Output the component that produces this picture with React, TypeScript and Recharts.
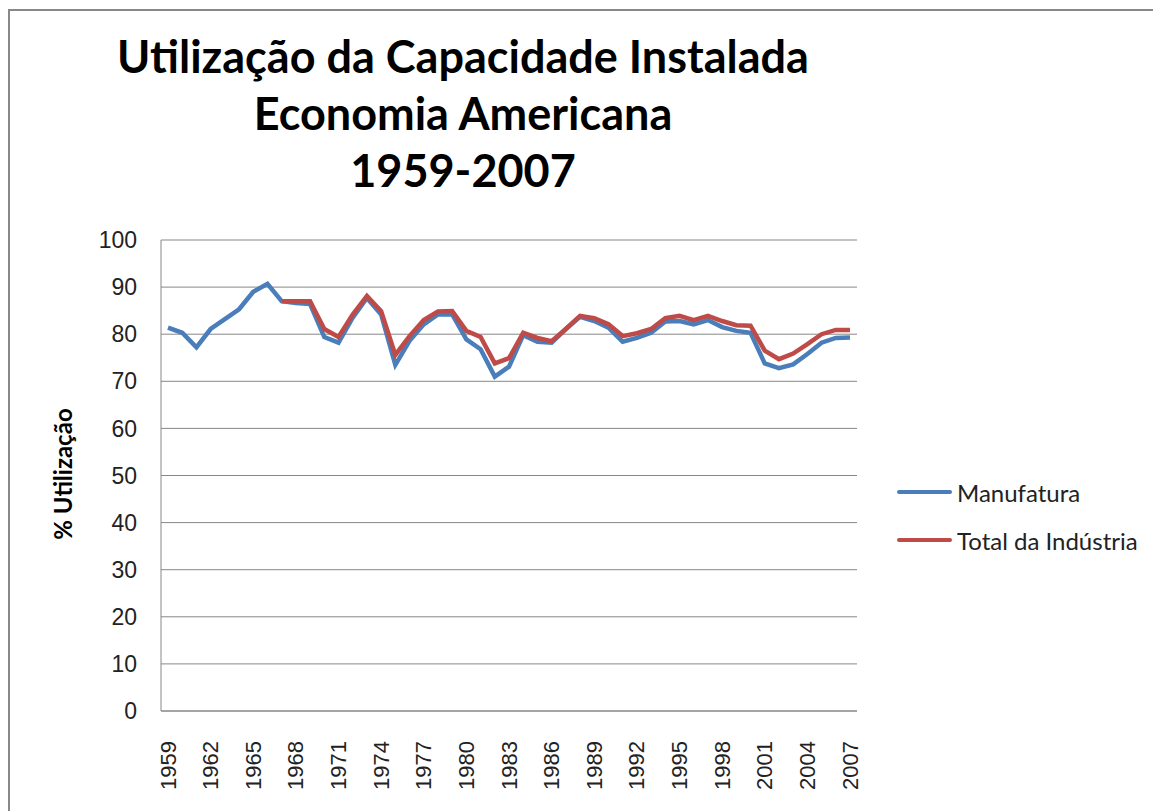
import { LineChart, Line, XAxis, YAxis, CartesianGrid } from 'recharts';

const years = [
  1959, 1960, 1961, 1962, 1963, 1964, 1965, 1966, 1967, 1968,
  1969, 1970, 1971, 1972, 1973, 1974, 1975, 1976, 1977, 1978,
  1979, 1980, 1981, 1982, 1983, 1984, 1985, 1986, 1987, 1988,
  1989, 1990, 1991, 1992, 1993, 1994, 1995, 1996, 1997, 1998,
  1999, 2000, 2001, 2002, 2003, 2004, 2005, 2006, 2007,
];

const manufatura = [
  81.4, 80.3, 77.2, 81.1, 83.2, 85.3, 89.0, 90.7, 87.0, 86.6,
  86.4, 79.4, 78.2, 83.5, 87.7, 84.2, 73.5, 78.6, 82.1, 84.2,
  84.2, 78.9, 76.8, 71.0, 73.1, 79.8, 78.4, 78.2, 81.1, 83.7,
  82.8, 81.4, 78.4, 79.2, 80.3, 82.7, 82.8, 82.1, 83.0, 81.5,
  80.7, 80.3, 73.8, 72.8, 73.6, 75.8, 78.2, 79.2, 79.3,
];

const totalIndustria = [
  null, null, null, null, null, null, null, null, 87.0, 87.0,
  87.0, 81.1, 79.4, 84.2, 88.1, 84.9, 75.6, 79.6, 83.0, 84.8,
  84.9, 80.7, 79.4, 73.8, 74.9, 80.3, 79.2, 78.5, 81.1, 83.9,
  83.4, 82.1, 79.6, 80.2, 81.1, 83.4, 83.9, 83.0, 83.9, 82.8,
  81.9, 81.8, 76.5, 74.7, 75.9, 77.9, 80.0, 80.9, 80.9,
];

const yTicks = [0, 10, 20, 30, 40, 50, 60, 70, 80, 90, 100];

const seriesNames = ['Manufatura', 'Total da Indústria'];

const data = years.map((y, i) => ({
  year: String(y),
  manufatura: manufatura[i],
  total: totalIndustria[i],
}));

const BLUE = '#4A7EBB';
const RED = '#BE4B48';
const GRID = '#878787';
const TICK_FONT = '"Liberation Sans", Arial, sans-serif';
const TITLE_FONT = 'Lato, "Noto Sans", sans-serif';

const YearTick = (props: any) => {
  const { x, y, payload } = props;
  const ty = y + 22;
  return (
    <text
      x={x}
      y={ty}
      transform={`rotate(-90, ${x}, ${ty})`}
      textAnchor="end"
      dominantBaseline="central"
      fontFamily={TICK_FONT}
      fontSize={22}
      fill="#222"
    >
      {payload.value}
    </text>
  );
};

export default function App() {
  return (
    <div
      style={{
        position: 'relative',
        width: 1153,
        height: 803,
        marginTop: 1,
        borderTop: '2px solid #888',
        borderLeft: '2px solid #888',
        boxSizing: 'border-box',
        background: '#fff',
      }}
    >
      <div
        style={{
          position: 'absolute',
          left: 0,
          top: 17,
          width: 906,
          textAlign: 'center',
          fontFamily: TITLE_FONT,
          fontWeight: 700,
          fontSize: 45,
          lineHeight: '57px',
          color: '#000',
        }}
      >
        Utilização da Capacidade Instalada
        <br />
        Economia Americana
        <br />
        1959-2007
      </div>
      <div style={{ position: 'absolute', left: -2, top: -3 }}>
        <LineChart
          width={1153}
          height={803}
          data={data}
          margin={{ top: 232, right: 304, left: 0, bottom: 0 }}
        >
          <CartesianGrid vertical={false} stroke={GRID} strokeWidth={1} />
          <XAxis
            dataKey="year"
            interval={2}
            height={100}
            padding={{ left: 7, right: 7 }}
            axisLine={{ stroke: GRID }}
            tickLine={false}
            tick={<YearTick />}
          />
          <YAxis
            domain={[0, 100]}
            ticks={yTicks}
            width={153}
            axisLine={{ stroke: GRID }}
            tickLine={false}
            tickSize={0}
            tickMargin={24}
            tick={{ fontFamily: TICK_FONT, fontSize: 23, fill: '#222' }}
            label={() => (
              <text
                x={54}
                y={466}
                transform="rotate(-90, 54, 466)"
                textAnchor="middle"
                dominantBaseline="central"
                fontFamily={TITLE_FONT}
                fontWeight={700}
                fontSize={24}
                fill="#000"
              >
                % Utilização
              </text>
            )}
          />
          <Line
            type="linear"
            dataKey="manufatura"
            name={seriesNames[0]}
            stroke={BLUE}
            strokeWidth={4.5}
            dot={false}
            isAnimationActive={false}
          />
          <Line
            type="linear"
            dataKey="total"
            name={seriesNames[1]}
            stroke={RED}
            strokeWidth={4.5}
            dot={false}
            connectNulls={false}
            isAnimationActive={false}
          />
        </LineChart>
      </div>
      <div style={{ position: 'absolute', left: 875, top: 439, width: 268, height: 100 }}>
        {[BLUE, RED].map((c, i) => (
          <div
            key={c}
            style={{
              position: 'absolute',
              left: 12,
              top: 42 + i * 48 - 15,
              height: 30,
              display: 'flex',
              alignItems: 'center',
              whiteSpace: 'nowrap',
            }}
          >
            <span
              style={{ display: 'inline-block', width: 55, height: 4.5, background: c, borderRadius: 2, marginRight: 5 }}
            />
            <span style={{ fontFamily: TITLE_FONT, fontSize: 24, color: '#222' }}>{seriesNames[i]}</span>
          </div>
        ))}
      </div>
    </div>
  );
}
